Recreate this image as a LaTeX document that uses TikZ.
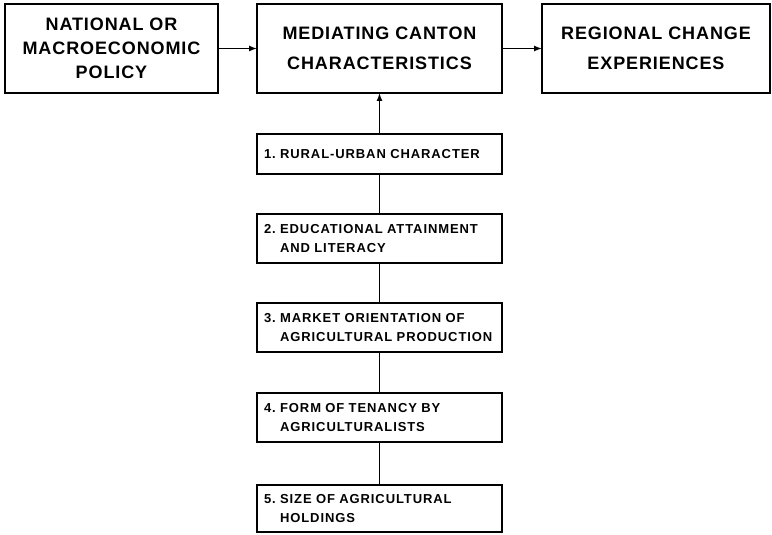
\documentclass[tikz,border=0pt]{standalone}
\usepackage{fontspec}
\setmainfont{Liberation Sans}
\newfontfamily\topfont[LetterSpace=5]{Liberation Sans}
\newfontfamily\listfont[LetterSpace=7]{Liberation Sans}
\usetikzlibrary{positioning,arrows.meta}
\hyphenpenalty=10000

\begin{document}
\begin{tikzpicture}
 [x=1pt,y=1pt,
   outer sep=0pt,
   bigbox/.style={draw,line width=2.2pt,minimum width=#1,minimum height=89pt,
     inner sep=0pt,align=center,font=\topfont\bfseries\fontsize{18}{30}\selectfont,
     execute at begin node=\rule{0pt}{19pt}},
   listbox/.style={draw,line width=1.8pt,text width=231pt,inner xsep=7pt,
     inner ysep=0pt,minimum height=49pt,align=left,
     font=\listfont\bfseries\fontsize{13}{19}\selectfont},
   link/.style={line width=1.3pt},
   feed/.style={link,-{Latex[length=8pt,width=6pt]}}]
  \useasboundingbox (0,0) rectangle (772,-535);
  \node[bigbox=213pt,anchor=north west,font=\topfont\bfseries\fontsize{18}{24}\selectfont]
     (policy) at (5,-4) {NATIONAL OR \\ MACROECONOMIC \\ POLICY};
  \node[bigbox=245pt,right=39pt of policy] (canton) {MEDIATING CANTON \\ CHARACTERISTICS};
  \node[bigbox=228pt,right=40pt of canton] (change) {REGIONAL CHANGE \\ EXPERIENCES};
  \node[listbox,minimum height=40pt,below=41pt of canton] (rural)
     {1.~RURAL-URBAN CHARACTER};
  \node[listbox,below=40pt of rural] (literacy)
     {2.~EDUCATIONAL ATTAINMENT \\ \phantom{2.~}AND LITERACY};
  \node[listbox,below=40pt of literacy] (market)
     {3.~MARKET ORIENTATION OF \\ \phantom{3.~}AGRICULTURAL PRODUCTION};
  \node[listbox,below=41pt of market] (tenancy)
     {4.~FORM OF TENANCY BY \\ \phantom{4.~}AGRICULTURALISTS};
  \node[listbox,minimum height=47pt,below=43pt of tenancy] (holdings)
     {5.~SIZE OF AGRICULTURAL \\ \phantom{5.~}HOLDINGS};
  \draw[feed] (policy) -- (canton);
  \draw[feed] (canton) -- (change);
  \draw[feed] (rural) -- (canton);
  \foreach \a/\b in {rural/literacy,literacy/market,market/tenancy,tenancy/holdings}
    \draw[link] (\a) -- (\b);
\end{tikzpicture}
\end{document}
